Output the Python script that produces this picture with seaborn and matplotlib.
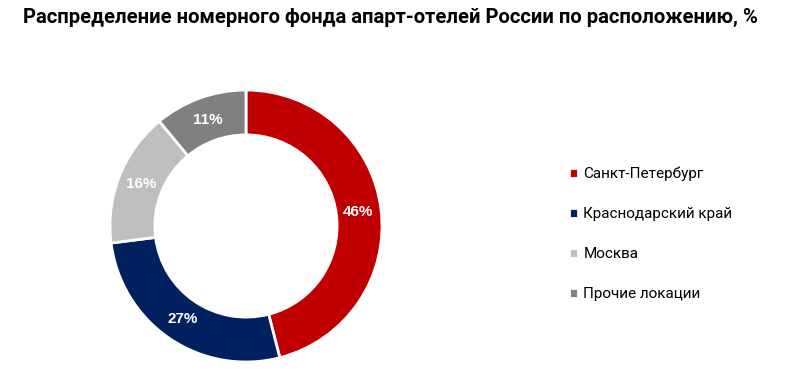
import matplotlib
matplotlib.use("Agg")
import matplotlib.pyplot as plt
import seaborn as sns

# data
regions = ["Санкт-Петербург", "Краснодарский край", "Москва", "Прочие локации"]
shares = [46, 27, 16, 11]
colors = ["#C00000", "#002060", "#BFBFBF", "#808080"]

sns.set_theme(style="white")
plt.rcParams["font.family"] = ["Roboto", "DejaVu Sans"]
plt.rcParams["text.color"] = "black"

fig = plt.figure(figsize=(7.85, 3.75), dpi=100)
ax = fig.add_axes([110 / 785, 13 / 375, 272 / 785, 272 / 375])

wedges, texts, autotexts = ax.pie(
    shares,
    colors=colors,
    startangle=90,
    counterclock=False,
    radius=1,
    autopct="%d%%",
    pctdistance=0.83,
    wedgeprops=dict(width=0.33, edgecolor="white", linewidth=2),
)
for t in autotexts:
    t.set_color("white")
    t.set_fontweight("bold")
    t.set_fontsize(11)
    t.set_family(["Liberation Sans", "DejaVu Sans"])
ax.set_xlim(-1, 1)
ax.set_ylim(-1, 1)

fig.text(
    390 / 785, 1 - 17 / 375,
    "Распределение номерного фонда апарт-отелей России по расположению, %",
    ha="center", va="center", fontsize=14.6, fontweight="bold", color="black",
)

fig.legend(
    wedges, regions,
    loc="center left", bbox_to_anchor=(555 / 785, 1 - 234 / 375),
    frameon=False, fontsize=11,
    handlelength=0.6, handleheight=0.6, handletextpad=0.35,
    labelspacing=1.7,
)

fig.savefig("out.png", dpi=100)
